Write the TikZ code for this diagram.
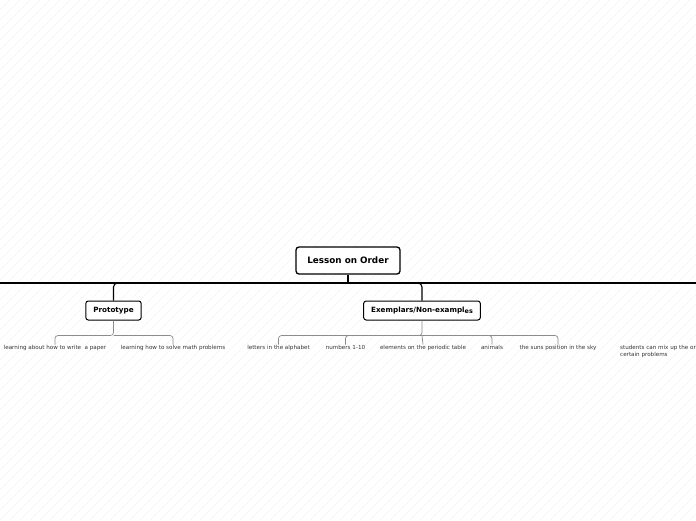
\documentclass[tikz,border=0pt]{standalone}
\usepackage{fontspec}
\setmainfont{DejaVu Sans}
\usepackage{tikz}
\usetikzlibrary{positioning}
\definecolor{stripeCol}{HTML}{F3F3F3}
\definecolor{subEdge}{HTML}{8C8C8C}
\definecolor{leafText}{HTML}{333333}
\begin{document}
\begin{tikzpicture}[x=1pt,y=-1pt]
  \tikzset{rootbox/.style={draw,line width=1.3pt,rounded corners=3pt,fill=white,font=\fontsize{8.8}{10}\selectfont\bfseries,
        minimum width=104pt,minimum height=27pt,inner sep=2pt},
    topicbox/.style={draw,line width=1pt,rounded corners=2.5pt,fill=white,font=\fontsize{7.2}{8}\selectfont\bfseries,
        minimum height=19pt,inner xsep=7.5pt},
    leaf/.style={font=\fontsize{5.6}{7}\selectfont,text=leafText,inner sep=1pt,anchor=north},
    mainline/.style={line width=1.1pt,rounded corners=4pt},
    subline/.style={subEdge,line width=0.7pt,rounded corners=3pt}}
  \useasboundingbox (0,0) rectangle (696,520);
  \clip (0,0) rectangle (696,520);
  % background stripes
  \foreach \s in {-520,-510,...,700}
    \draw[stripeCol,line width=0.5pt] (\s,520) -- (\s+520,0);
  % root and topics
  \node[rootbox] (root) at (348,260.5) {Lesson on Order};
  \coordinate (busL) at (0,283);
  \coordinate (busR) at (696,283);
  \node[topicbox] (proto) at (113.5,310.5) {Prototype};
  \node[topicbox] (exem) at (422,310.5) {Exemplars/Non-exampl\raisebox{-1.4pt}{\fontsize{6.4}{7}\selectfont es}};
  % leaves of Prototype
  \node[leaf] (write) at (55,344.5) {learning about how to write\ \ a paper};
  \node[leaf] (math) at (173,344.5) {learning how to solve math problems};
  % leaves of Exemplars
  \node[leaf] (alpha) at (278.5,344.5) {letters in the alphabet};
  \node[leaf] (nums) at (345.5,344.5) {numbers 1-10};
  \node[leaf] (elem) at (423,344.5) {elements on the periodic table};
  \node[leaf] (anim) at (492,344.5) {animals};
  \node[leaf] (sun) at (558,344.5) {the suns position in the sky};
  \node[leaf,anchor=north west,align=left] (mix) at (619,344.5) {students can mix up the order of\\certain problems};
  % connectors
  \draw[line width=1.1pt] (busL) -- (busR);
  \draw[line width=1.1pt] (root.south) -- (root.south |- busL);
  \draw[mainline] (root.south |- busL) -| (proto.north);
  \draw[mainline] (root.south |- busL) -| (exem.north);
  \draw[subline] (proto.south) -- ++(0,15) coordinate (pb) -| (write.north);
  \draw[subline] (pb) -| (math.north);
  \draw[subline] (exem.south) -- ++(0,15) coordinate (eb) -| (alpha.north);
  \draw[subline] (eb) -| (nums.north);
  \draw[subline] (eb) -- (elem.north);
  \draw[subline] (eb) -| (anim.north);
  \draw[subline] (eb) -| (sun.north);
\end{tikzpicture}
\end{document}
